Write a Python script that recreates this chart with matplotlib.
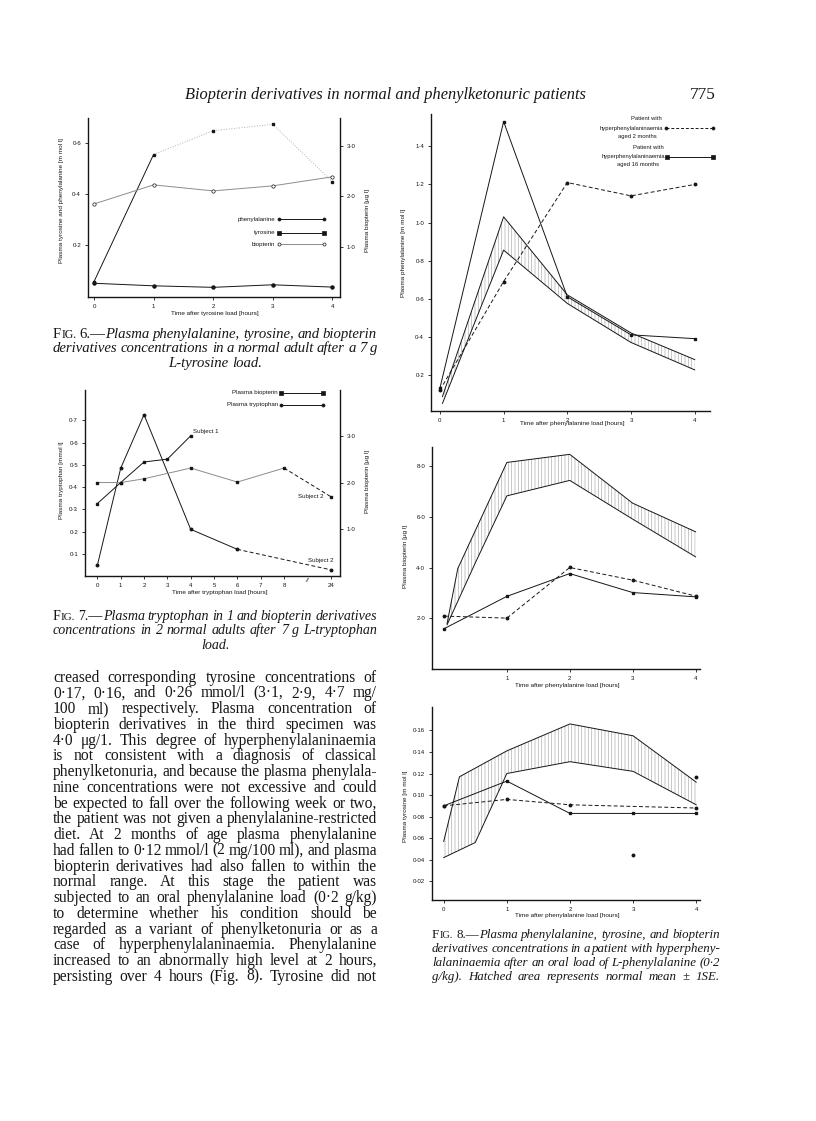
import numpy as np
import matplotlib
matplotlib.use('Agg')
import matplotlib.pyplot as plt
from matplotlib.lines import Line2D

W, H = 816, 1121
SERIF = 'Liberation Serif'
SANS = 'Liberation Sans'
INK = '#161616'
GREY = '#8c8c8c'
LIGHT = '#b0b0b0'

# ---- Fig. 6: tyrosine load, normal adult ----
f6_hours = [0, 1, 2, 3, 4]
f6_phenylalanine = [0.050, 0.040, 0.034, 0.044, 0.035]
f6_tyrosine = [0.056, 0.556, 0.650, 0.675, 0.450]
f6_biopterin = [1.85, 2.23, 2.11, 2.21, 2.39]
f6_left_ticks = [0.2, 0.4, 0.6]
f6_left_labels = ['0·2', '0·4', '0·6']
f6_right_ticks = [1, 2, 3]
f6_right_labels = ['1·0', '2·0', '3·0']

# ---- Fig. 7: tryptophan load, 2 normal adults ----
f7_tick_hours = [0, 1, 2, 3, 4, 5, 6, 7, 8, 24]
f7_tick_labels = ['0', '1', '2', '3', '4', '5', '6', '7', '8', '24']
f7_trp_hours = [0, 1, 2, 4, 6, 24]
f7_tryptophan = [0.048, 0.485, 0.726, 0.210, 0.120, 0.028]
f7_s1_hours = [0, 1, 2, 3, 4]
f7_bio_subject1 = [1.55, 2.00, 2.44, 2.50, 3.00]
f7_s2_hours = [0, 1, 2, 4, 6, 8, 24]
f7_bio_subject2 = [2.00, 2.00, 2.08, 2.31, 2.01, 2.31, 1.70]
f7_left_ticks = [0.1, 0.2, 0.3, 0.4, 0.5, 0.6, 0.7]
f7_left_labels = ['0·1', '0·2', '0·3', '0·4', '0·5', '0·6', '0·7']
f7_right_ticks = [1, 2, 3]
f7_right_labels = ['1·0', '2·0', '3·0']

# ---- Fig. 8: phenylalanine load, hyperphenylalaninaemia ----
f8_hours = [0, 1, 2, 3, 4]
f8_hour_labels = ['0', '1', '2', '3', '4']

phe_2mo = [0.12, 0.69, 1.21, 1.14, 1.20]
phe_16mo = [0.13, 1.53, 0.61, 0.41, 0.39]
phe_band_hours = [0.04, 1, 2, 3, 4]
phe_band_hi = [0.086, 1.03, 0.62, 0.42, 0.28]
phe_band_lo = [0.050, 0.855, 0.575, 0.37, 0.226]
phe_ticks = [0.2, 0.4, 0.6, 0.8, 1.0, 1.2, 1.4]
phe_labels = ['0·2', '0·4', '0·6', '0·8', '1·0', '1·2', '1·4']

bio_2mo = [2.09, 2.01, 4.01, 3.51, 2.88]
bio_16mo = [1.59, 2.87, 3.77, 3.02, 2.85]
bio_hi_hours = [0.05, 0.22, 1, 2, 3, 4]
bio_band_hi = [1.80, 3.97, 8.16, 8.48, 6.55, 5.42]
bio_lo_hours = [0.05, 0.5, 1, 2, 3, 4]
bio_band_lo = [1.75, 4.20, 6.84, 7.45, 5.92, 4.43]
bio_ticks = [2, 4, 6, 8]
bio_labels = ['2·0', '4·0', '6·0', '8·0']
bio_xticks = [1, 2, 3, 4]

tyr_2mo_hours = [0, 1, 2, 4]
tyr_2mo = [0.090, 0.096, 0.091, 0.088]
tyr_16mo = [0.090, 0.113, 0.083, 0.083, 0.083]
tyr_hi_hours = [0, 0.25, 1, 2, 3, 4]
tyr_band_hi = [0.057, 0.117, 0.141, 0.166, 0.155, 0.112]
tyr_lo_hours = [0, 0.5, 1, 2, 3, 4]
tyr_band_lo = [0.042, 0.056, 0.120, 0.131, 0.122, 0.091]
tyr_extra_hours = [3, 4]
tyr_extra = [0.044, 0.117]
tyr_ticks = [0.02, 0.04, 0.06, 0.08, 0.10, 0.12, 0.14, 0.16]
tyr_labels = ['0·02', '0·04', '0·06', '0·08', '0·10', '0·12', '0·14', '0·16']

# ---- page text ----
header = 'Biopterin derivatives in normal and phenylketonuric patients'
page_no = '775'

body_lines = [
    'creased corresponding tyrosine concentrations of',
    '0·17, 0·16, and 0·26 mmol/l (3·1, 2·9, 4·7 mg/',
    '100 ml) respectively. Plasma concentration of',
    'biopterin derivatives in the third specimen was',
    '4·0 μg/1. This degree of hyperphenylalaninaemia',
    'is not consistent with a diagnosis of classical',
    'phenylketonuria, and because the plasma phenylala-',
    'nine concentrations were not excessive and could',
    'be expected to fall over the following week or two,',
    'the patient was not given a phenylalanine-restricted',
    'diet. At 2 months of age plasma phenylalanine',
    'had fallen to 0·12 mmol/l (2 mg/100 ml), and plasma',
    'biopterin derivatives had also fallen to within the',
    'normal range. At this stage the patient was',
    'subjected to an oral phenylalanine load (0·2 g/kg)',
    'to determine whether his condition should be',
    'regarded as a variant of phenylketonuria or as a',
    'case of hyperphenylalaninaemia. Phenylalanine',
    'increased to an abnormally high level at 2 hours,',
    'persisting over 4 hours (Fig. 8). Tyrosine did not',
]

cap6 = ['6', 'Plasma phenylalanine, tyrosine, and biopterin',
        'derivatives concentrations in a normal adult after a 7 g',
        'L-tyrosine load.']
cap7 = ['7', 'Plasma tryptophan in 1 and biopterin derivatives',
        'concentrations in 2 normal adults after 7 g L-tryptophan',
        'load.']
cap8 = ['8', 'Plasma phenylalanine, tyrosine, and biopterin',
        'derivatives concentrations in a patient with hyperpheny-',
        'lalaninaemia after an oral load of L-phenylalanine (0·2',
        'g/kg). Hatched area represents normal mean ± 1SE.']

plt.rcParams['font.family'] = [SANS, 'DejaVu Sans']
plt.rcParams['hatch.linewidth'] = 0.5

fig = plt.figure(figsize=(W / 100, H / 100), dpi=100)
fig.patch.set_facecolor('white')
renderer = fig.canvas.get_renderer()


def fx(x):
    return x / W


def fy(y):
    return 1 - y / H


def px_axes(left, top, right, bottom):
    return fig.add_axes([left / W, 1 - bottom / H, (right - left) / W, (bottom - top) / H])


def put(x, y, s, size=4.6, ha='center', va='center', rotation=0, **kw):
    kw.setdefault('family', [SANS, 'DejaVu Sans'])
    return fig.text(fx(x), fy(y), s, fontsize=size, ha=ha, va=va,
                    rotation=rotation, color=INK, **kw)


def style_axes(ax, side='left'):
    for s in ['top', 'right', 'left', 'bottom']:
        ax.spines[s].set_visible(False)
    for s in [side, 'bottom']:
        ax.spines[s].set_visible(True)
        ax.spines[s].set_linewidth(1.0)
        ax.spines[s].set_color(INK)
    ax.set_facecolor('none')
    ax.tick_params(direction='out', length=2.5, width=0.6, labelsize=4.4,
                   pad=2.5, colors=INK)


def legend_line(x0, x1, y, ls='-', marker='o', mfc=INK, color=INK):
    fig.add_artist(Line2D([fx(x0), fx(x1)], [fy(y), fy(y)], transform=fig.transFigure,
                          color=color, lw=0.7, ls=ls, marker=marker, ms=2.2,
                          mfc=mfc, mec=INK, mew=0.5))


# ---------- text setting (justified serif lines) ----------
def text_width(s, size, style):
    t = fig.text(0, 0, s, fontsize=size, family=SERIF, style=style)
    w = t.get_window_extent(renderer).width
    t.remove()
    return w


def space_width(size):
    return text_width('a a', size, 'normal') - text_width('aa', size, 'normal')


def set_words(words, x0, x1, y, size, align='justify'):
    """words: list of words, each a list of (text, style, scale) pieces."""
    widths = [sum(text_width(p, size * sc, st) for p, st, sc in w) for w in words]
    n = len(words)
    if align == 'justify' and n > 1:
        gap = (x1 - x0 - sum(widths)) / (n - 1)
        x = x0
    else:
        gap = space_width(size)
        total = sum(widths) + gap * (n - 1)
        x = (x0 + x1) / 2 - total / 2
    base = y + 0.26 * size * 100 / 72
    for w, wd in zip(words, widths):
        xx = x
        for p, st, sc in w:
            fig.text(fx(xx), fy(base), p, fontsize=size * sc, family=SERIF, style=st,
                     color=INK, ha='left', va='baseline')
            xx += text_width(p, size * sc, st)
        x += wd + gap


def plain(line, style):
    return [[(w, style, 1.0)] for w in line.split()]


def fit_size(lines, target, style, start, squeeze=0.8):
    sp = space_width(start)
    r = 0
    for l in lines:
        ws = l.split()
        need = sum(text_width(w, start, style) for w in ws) + squeeze * sp * (len(ws) - 1)
        r = max(r, need / target)
    return min(start, start / r)


def caption(cap, x0, x1, ys, last_center):
    num, lines = cap[0], cap[1:]
    size = fit_size([f'FIG. {num}.—' + lines[0]] + lines[1:-1], x1 - x0, 'italic', 10.8)
    for i, (line, y) in enumerate(zip(lines, ys)):
        words = plain(line, 'italic')
        if i == 0:
            lead = [[('F', 'normal', 1.0), ('IG.', 'normal', 0.8)],
                    [(f'{num}.—', 'normal', 1.0)] + words[0]]
            words = lead + words[1:]
        align = 'center' if (last_center and i == len(lines) - 1) else 'justify'
        set_words(words, x0, x1, y, size, align)


# header
t = fig.text(fx(185), fy(99), header, fontsize=12, family=SERIF, style='italic',
             color=INK, ha='left', va='baseline')
t.set_fontsize(12 * 402 / t.get_window_extent(renderer).width)
fig.text(fx(690), fy(99), page_no, fontsize=t.get_fontsize() * 1.05, family=SERIF,
         color=INK, ha='left', va='baseline')

# body
bsize = fit_size(body_lines, 324, 'normal', 11.2)
for i, line in enumerate(body_lines):
    set_words(plain(line, 'normal'), 53, 377, 677.7 + i * 15.74, bsize)

caption(cap6, 53, 377, [334, 348, 362.7], True)
caption(cap7, 53, 377, [616.7, 630.7, 645], True)
caption(cap8, 432, 720, [935, 949, 962.7, 976.7], False)

# ---------- Fig. 6 ----------
ax = px_axes(88, 118, 340, 297)
style_axes(ax)
ax.plot(f6_hours, f6_phenylalanine, color=INK, lw=0.7, marker='o', ms=2.2)
ax.plot(f6_hours[:2], f6_tyrosine[:2], color=INK, lw=0.7)
ax.plot(f6_hours[1:], f6_tyrosine[1:], color=LIGHT, lw=0.7, ls=':')
ax.plot(f6_hours, f6_tyrosine, ls='none', marker='s', ms=2.0, color=INK)
ax.set_xlim(-0.1, 4.13)
ax.set_ylim(-0.004, 0.70)
ax.set_xticks(f8_hours, f8_hour_labels)
ax.set_yticks(f6_left_ticks, f6_left_labels)
ax2 = ax.twinx()
style_axes(ax2, 'right')
ax2.spines['bottom'].set_visible(False)
ax2.plot(f6_hours, f6_biopterin, color=GREY, lw=0.7, marker='o', ms=2.4,
         mfc='white', mec=INK, mew=0.5)
ax2.set_ylim(0, 3.56)
ax2.set_yticks(f6_right_ticks, f6_right_labels)
put(62, 201, 'Plasma tyrosine and phenylalanine [m mol l]', rotation=90)
put(367, 221, 'Plasma biopterin [μg l]', rotation=90)
put(215, 314, 'Time after tyrosine load [hours]')
put(275, 219, 'phenylalanine', ha='right', size=4.4)
legend_line(279, 324, 219, marker='o')
put(275, 232.7, 'tyrosine', ha='right', size=4.4)
legend_line(279, 324, 232.7, marker='s')
put(275, 244.3, 'biopterin', ha='right', size=4.4)
legend_line(279, 324, 244.3, marker='o', mfc='white', color=GREY)

# ---------- Fig. 7 ----------
def brk_fwd(h):
    h = np.asarray(h, float)
    return np.where(h <= 8, h, 8 + (h - 8) / 8)


def brk_inv(x):
    x = np.asarray(x, float)
    return np.where(x <= 8, x, 8 + (x - 8) * 8)


ax = px_axes(85, 390, 340, 576)
ax.set_xscale('function', functions=(brk_fwd, brk_inv))
style_axes(ax)
ax.plot(f7_trp_hours[:-1], f7_tryptophan[:-1], color=INK, lw=0.7)
ax.plot(f7_trp_hours[-2:], f7_tryptophan[-2:], color=INK, lw=0.7, ls=(0, (4, 2.5)))
ax.plot(f7_trp_hours, f7_tryptophan, ls='none', marker='o', ms=1.8, color=INK)
ax.set_xlim(-0.53, 27.2)
ax.set_ylim(0, 0.837)
ax.set_xticks(f7_tick_hours, f7_tick_labels)
ax.set_yticks(f7_left_ticks, f7_left_labels)
ax.text(16, -0.012, '//', transform=ax.get_xaxis_transform(), ha='center', va='top',
        fontsize=4.6, color=INK, style='italic')
ax2 = ax.twinx()
style_axes(ax2, 'right')
ax2.spines['bottom'].set_visible(False)
ax2.plot(f7_s1_hours, f7_bio_subject1, color=INK, lw=0.7, marker='s', ms=1.8)
ax2.plot(f7_s2_hours[:-1], f7_bio_subject2[:-1], color=GREY, lw=0.7)
ax2.plot(f7_s2_hours[-2:], f7_bio_subject2[-2:], color=INK, lw=0.7, ls=(0, (4, 2.5)))
ax2.plot(f7_s2_hours, f7_bio_subject2, ls='none', marker='s', ms=1.8, color=INK)
ax2.set_ylim(0, 3.98)
ax2.set_yticks(f7_right_ticks, f7_right_labels)
ax2.annotate('Subject 1', xy=(f7_s1_hours[-1], f7_bio_subject1[-1]), xytext=(1.5, 1.5),
             textcoords='offset points', fontsize=4.4, color=INK, va='bottom')
ax2.annotate('Subject 2', xy=(f7_s2_hours[-1], f7_bio_subject2[-1]), xytext=(-5, 0),
             textcoords='offset points', fontsize=4.4, color=INK, ha='right', va='center')
ax.annotate('Subject 2', xy=(f7_trp_hours[-1], f7_tryptophan[-1]), xytext=(2, 6.5),
            textcoords='offset points', fontsize=4.4, color=INK, ha='right', va='center')
put(61, 480, 'Plasma tryptophan [mmol l]', rotation=90)
put(367, 482, 'Plasma biopterin [μg l]', rotation=90)
put(219.5, 592.7, 'Time after tryptophan load [hours]')
put(278, 392.7, 'Plasma biopterin', ha='right', size=4.4)
legend_line(281, 323, 392.7, marker='s')
put(278, 405, 'Plasma tryptophan', ha='right', size=4.4)
legend_line(281, 323, 405, marker='o')

# ---------- Fig. 8 (a) phenylalanine ----------
ax = px_axes(431, 114, 710, 411)
style_axes(ax)
ax.fill(np.r_[phe_band_hours, phe_band_hours[::-1]], np.r_[phe_band_hi, phe_band_lo[::-1]],
        facecolor='none', edgecolor=LIGHT, hatch='|||||', lw=0)
ax.plot(phe_band_hours, phe_band_hi, color=INK, lw=0.7)
ax.plot(phe_band_hours, phe_band_lo, color=INK, lw=0.7)
ax.plot(f8_hours, phe_16mo, color=INK, lw=0.7, marker='s', ms=2.0)
ax.plot(f8_hours, phe_2mo, color=INK, lw=0.7, ls=(0, (4, 2.5)), marker='o', ms=1.8)
ax.set_xlim(-0.14, 4.24)
ax.set_ylim(0.01, 1.57)
ax.set_xticks(f8_hours, f8_hour_labels)
ax.set_yticks(phe_ticks, phe_labels)
put(404, 253, 'Plasma phenylalanine [m mol l]', rotation=90)
put(572, 423.3, 'Time after phenylalanine load [hours]')
put(646, 118.3, 'Patient with', size=4.2)
put(663, 128.3, 'hyperphenylalaninaemia', ha='right', size=4.2)
put(637.5, 136.7, 'aged 2 months', size=4.2)
legend_line(666, 712.7, 128.3, ls=(0, (3, 2)), marker='o')
put(648, 147.7, 'Patient with', size=4.2)
put(665, 156.7, 'hyperphenylalaninaemia', ha='right', size=4.2)
put(638, 164.3, 'aged 16 months', size=4.2)
legend_line(667, 712.7, 156.7, marker='s')

# ---------- Fig. 8 (b) biopterin ----------
ax = px_axes(432, 447, 700, 669)
style_axes(ax)
ax.fill(np.r_[bio_hi_hours, bio_lo_hours[::-1]], np.r_[bio_band_hi, bio_band_lo[::-1]],
        facecolor='none', edgecolor=LIGHT, hatch='|||||', lw=0)
ax.plot(bio_hi_hours, bio_band_hi, color=INK, lw=0.7)
ax.plot(bio_lo_hours, bio_band_lo, color=INK, lw=0.7)
ax.plot(f8_hours, bio_16mo, color=INK, lw=0.7, marker='s', ms=2.0)
ax.plot(f8_hours, bio_2mo, color=INK, lw=0.7, ls=(0, (4, 2.5)), marker='o', ms=1.8)
ax.set_xlim(-0.19, 4.07)
ax.set_ylim(0, 8.77)
ax.set_xticks(bio_xticks, f8_hour_labels[1:])
ax.set_yticks(bio_ticks, bio_labels)
put(405, 557, 'Plasma biopterin [μg l]', rotation=90)
put(567, 685.7, 'Time after phenylalanine load [hours]')

# ---------- Fig. 8 (c) tyrosine ----------
ax = px_axes(432, 707, 700, 900)
style_axes(ax)
ax.fill(np.r_[tyr_hi_hours, tyr_lo_hours[::-1]], np.r_[tyr_band_hi, tyr_band_lo[::-1]],
        facecolor='none', edgecolor=LIGHT, hatch='|||||', lw=0)
ax.plot(tyr_hi_hours, tyr_band_hi, color=INK, lw=0.7)
ax.plot(tyr_lo_hours, tyr_band_lo, color=INK, lw=0.7)
ax.plot(f8_hours, tyr_16mo, color=INK, lw=0.7, marker='s', ms=2.0)
ax.plot(tyr_2mo_hours, tyr_2mo, color=INK, lw=0.7, ls=(0, (4, 2.5)), marker='o', ms=1.8)
ax.plot(tyr_extra_hours, tyr_extra, ls='none', marker='o', ms=1.8, color=INK)
ax.set_xlim(-0.185, 4.06)
ax.set_ylim(0.0027, 0.1817)
ax.set_xticks(f8_hours, f8_hour_labels)
ax.set_yticks(tyr_ticks, tyr_labels)
put(405, 806, 'Plasma tyrosine [m mol l]', rotation=90)
put(567, 915.7, 'Time after phenylalanine load [hours]')

fig.savefig('out.png', dpi=100, facecolor='white')
